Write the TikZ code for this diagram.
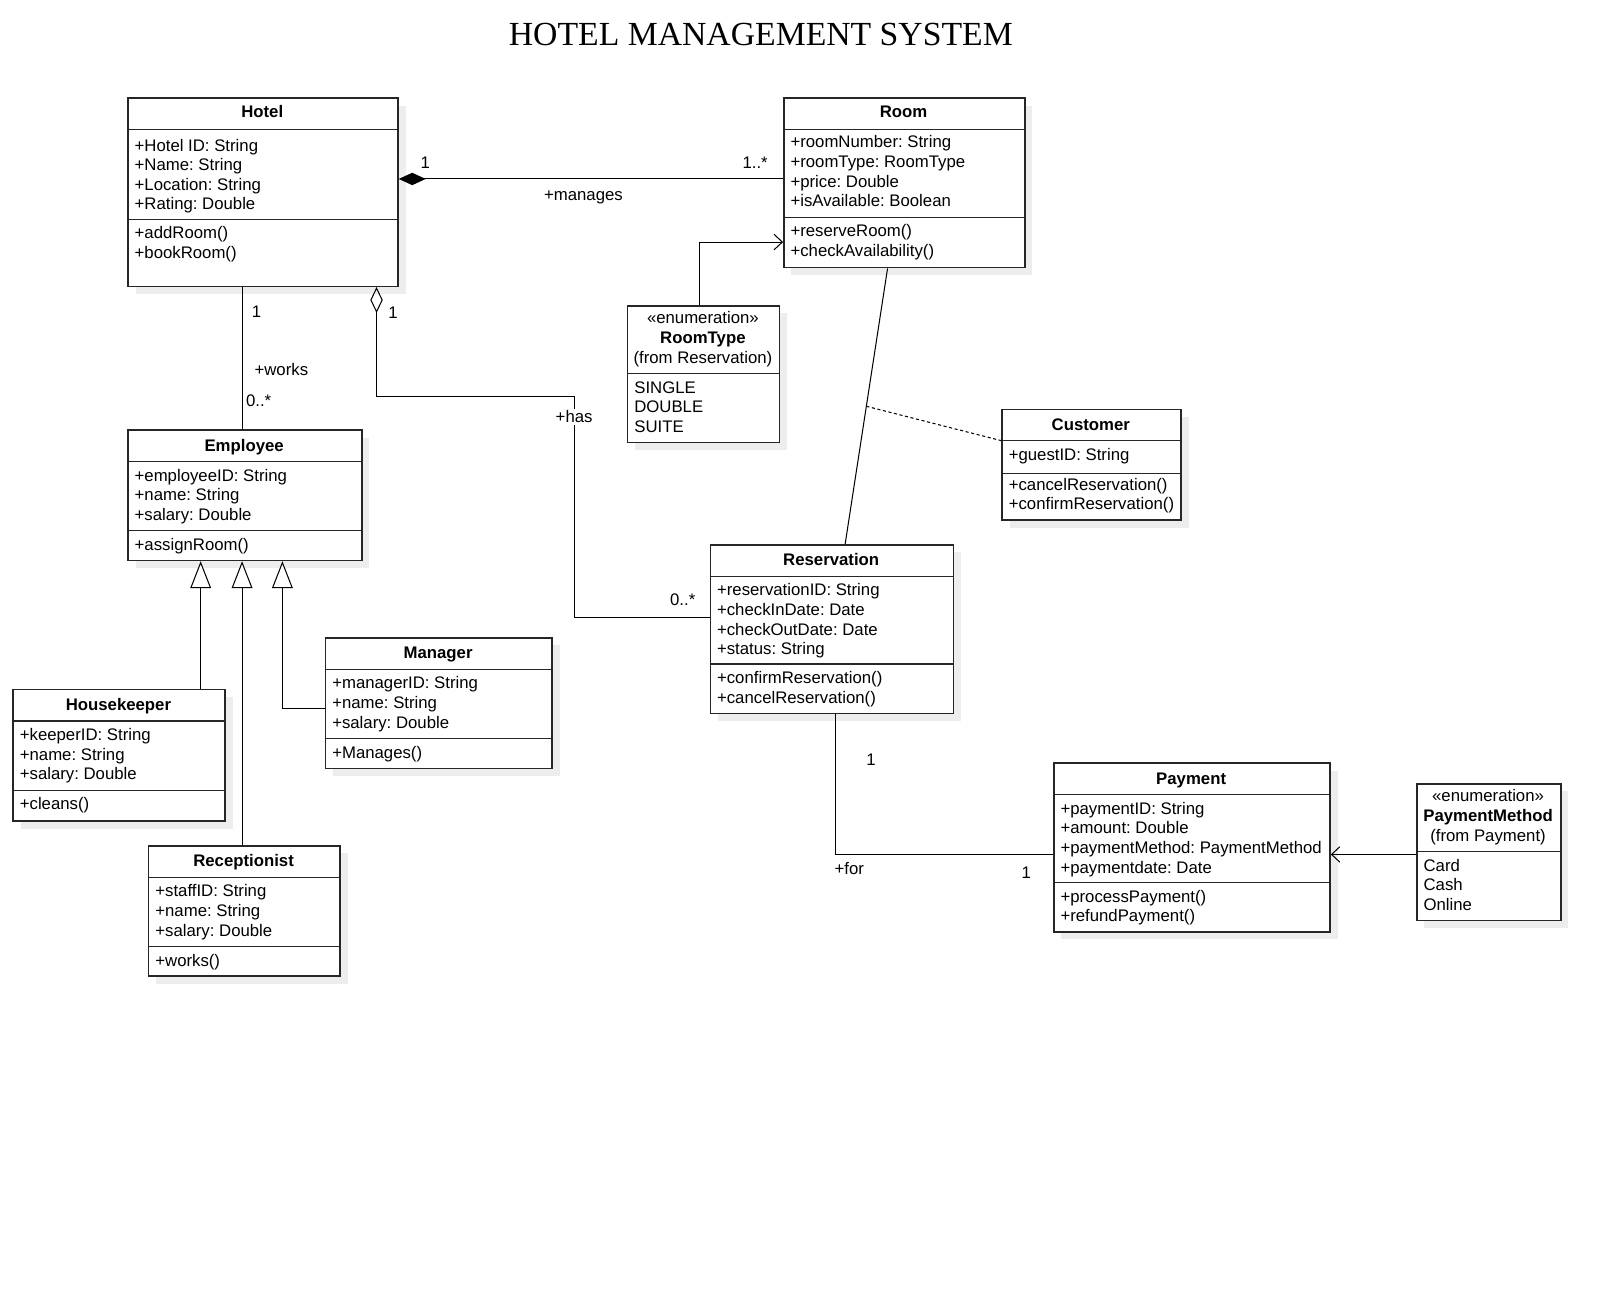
\documentclass[tikz,border=0pt]{standalone}
\usepackage{fontspec}
\setmainfont{Liberation Sans}
\newfontfamily\titlefont{Liberation Serif}
\usetikzlibrary{arrows.meta,calc}
\frenchspacing
\tikzset{
  boxline/.style={draw=black!85, line width=1.5pt},
  divl/.style={draw=black!85, line width=1.2pt},
  box/.style={boxline, fill=white, inner sep=0pt, anchor=north west},
  txt/.style={font=\fontsize{16.2}{19}\selectfont, inner sep=0pt, anchor=base west},
  ctxt/.style={font=\fontsize{16.2}{19}\selectfont, inner sep=0pt, anchor=base},
  hdr/.style={font=\fontsize{16.2}{19}\selectfont\bfseries, inner sep=0pt, anchor=base},
  lbl/.style={font=\fontsize{16.2}{19}\selectfont, inner sep=0pt},
  conn/.style={draw=black, line width=1pt},
}
% name, left, top, width, height
\newcommand\umlbox[5]{%
  \fill[black!7] (#2+8,-#3-8) rectangle ++(#4,-#5);
  \node[box, minimum width=#4pt, minimum height=#5pt] (#1) at (#2,-#3) {};}
% left x, width, y
\newcommand\divline[3]{\draw[divl] (#1,-#3) -- ++(#2,0);}
% x, first baseline, prefix, list
\newcommand\rows[4]{\foreach \t [count=\i] in {#4} {\node[txt] (#3\i) at (#1,{-(#2)-19*(\i-1)}) {\t};}}
\begin{document}
\begin{tikzpicture}[x=1pt,y=1pt]
\useasboundingbox (0,0) rectangle (1568,-1246);
\fill[white] (0,0) rectangle (1568,-1246);

\node[font=\titlefont\fontsize{32.6}{36}\selectfont, inner sep=0pt] (title) at (735.5,-33) {HOTEL MANAGEMENT SYSTEM};

% ---------- classes ----------
% Hotel
\umlbox{hotel}{123}{94}{261}{182}
\divline{123}{261}{125}\divline{123}{261}{212}
\node[hdr] (hotelN) at (253.5,-114) {Hotel};
\rows{130}{146}{hotelA}{+Hotel ID: String,+Name: String,+Location: String,+Rating: Double}
\rows{130}{231}{hotelM}{+addRoom(),+bookRoom()}

% Room
\umlbox{room}{757}{94}{233}{164}
\divline{757}{233}{125}\divline{757}{233}{210}
\node[hdr] (roomN) at (873.5,-114) {Room};
\rows{764}{143}{roomA}{+roomNumber: String,+roomType: RoomType,+price: Double,+isAvailable: Boolean}
\rows{764}{229}{roomM}{+reserveRoom(),+checkAvailability()}

% RoomType
\umlbox{roomtype}{606}{295}{147}{132}
\divline{606}{147}{361}
\node[ctxt] (rtS) at (679.5,-313) {«enumeration»};
\node[hdr] (rtN) at (679.5,-332) {RoomType};
\node[ctxt] (rtF) at (679.5,-351) {(from Reservation)};
\rows{613}{380}{rtV}{SINGLE,DOUBLE,SUITE}

% Customer
\umlbox{customer}{968}{395}{173}{107}
\divline{968}{173}{426}\divline{968}{173}{458}
\node[hdr] (custN) at (1054.5,-416) {Customer};
\rows{975}{445}{custA}{+guestID: String}
\rows{975}{474}{custM}{+cancelReservation(),+confirmReservation()}

% Employee
\umlbox{employee}{123}{415}{226}{126}
\divline{123}{226}{446}\divline{123}{226}{513}
\node[hdr] (empN) at (236,-436) {Employee};
\rows{130}{465}{empA}{+employeeID: String,+name: String,+salary: Double}
\rows{130}{532}{empM}{+assignRoom()}

% Reservation
\umlbox{reservation}{686}{526}{235}{163}
\divline{686}{235}{557}\divline{686}{235}{642}
\node[hdr] (resN) at (803.5,-547) {Reservation};
\rows{693}{576}{resA}{+reservationID: String,+checkInDate: Date,+checkOutDate: Date,+status: String}
\rows{693}{661}{resM}{+confirmReservation(),+cancelReservation()}

% Manager
\umlbox{manager}{314}{616}{219}{126}
\divline{314}{219}{647}\divline{314}{219}{714}
\node[hdr] (mgrN) at (423.5,-637) {Manager};
\rows{321}{666}{mgrA}{+managerID: String,+name: String,+salary: Double}
\rows{321}{733}{mgrM}{+Manages()}

% Housekeeper
\umlbox{housekeeper}{12}{666}{205}{127}
\divline{12}{205}{697}\divline{12}{205}{764}
\node[hdr] (hkN) at (114.5,-687) {Housekeeper};
\rows{19}{716}{hkA}{+keeperID: String,+name: String,+salary: Double}
\rows{19}{783}{hkM}{+cleans()}

% Receptionist
\umlbox{receptionist}{143}{817}{185}{126}
\divline{143}{185}{848}\divline{143}{185}{915}
\node[hdr] (rcN) at (235.5,-838) {Receptionist};
\rows{150}{867}{rcA}{+staffID: String,+name: String,+salary: Double}
\rows{150}{934}{rcM}{+works()}

% Payment
\umlbox{payment}{1018}{737}{267}{163}
\divline{1018}{267}{768}\divline{1018}{267}{853}
\node[hdr] (payN) at (1151.5,-758) {Payment};
\rows{1025}{787}{payA}{+paymentID: String,+amount: Double,+paymentMethod: PaymentMethod,+paymentdate: Date}
\rows{1025}{872}{payM}{+processPayment(),+refundPayment()}

% PaymentMethod
\umlbox{paymentmethod}{1369}{757}{139}{132}
\divline{1369}{139}{823}
\node[ctxt] (pmS) at (1438.5,-775) {«enumeration»};
\node[hdr] (pmN) at (1438.5,-794) {PaymentMethod};
\node[ctxt] (pmF) at (1438.5,-813) {(from Payment)};
\rows{1376}{842}{pmV}{Card,Cash,Online}

% ---------- connectors ----------
% Hotel -- Room composition
\draw[conn, {Diamond[length=26pt,width=12pt]}-] (hotel.east |- 0,-173) coordinate (hotR) -- (room.west |- 0,-173) coordinate (roomL);
\node[lbl] (m1) at (411,-157) {1};
\node[lbl] (m2) at (730,-157) {1..*};
\node[lbl] (m3) at (564,-191) {+manages};

% RoomType -> Room
\draw[conn, -{Straight Barb[length=8pt,width=15pt]}] (roomtype.north -| 676,0) coordinate (rtT) |- (room.west |- 0,-234) coordinate (roomL2);

% Hotel -- Employee
\draw[conn] (hotel.south -| 234,0) coordinate (hotB1) -- (employee.north -| 234,0) coordinate (empT);
\node[lbl] (m4) at (248,-301) {1};
\node[lbl] (m5) at (272,-357) {+works};
\node[lbl] (m6) at (250,-387) {0..*};

% Hotel <>-- Reservation aggregation
\coordinate (hotB2) at (hotel.south -| 364,0);
\coordinate (resL) at (reservation.west |- 0,-597);
\draw[conn, {Diamond[open,length=25pt,width=12pt]}-] (hotB2) |- (555,-383) |- (resL);
\node[lbl] (m7) at (380,-302) {1};
\node[lbl, fill=white, inner sep=1.5pt] (m8) at (555,-403) {+has};
\node[lbl] (m9) at (660,-580) {0..*};

% Room -- Reservation, with Customer association class
\coordinate (roomB) at (room.south -| 858,0);
\coordinate (resT) at (reservation.north -| 817,0);
\draw[conn] (roomB) -- coordinate[pos=0.5] (assoc) (resT);
\coordinate (custL) at (customer.west |- 0,-426);
\draw[conn, dash pattern=on 3pt off 2.5pt] (assoc) -- (custL);

% Generalizations
\tikzset{gen/.style={conn, -{Triangle[open,length=26pt,width=20pt,fill=white]}}}
\draw[gen] (housekeeper.north -| 194,0) coordinate (hkT) -- (employee.south -| 194,0) coordinate (empB1);
\draw[gen] (receptionist.north -| 234,0) coordinate (rcT) -- (employee.south -| 234,0) coordinate (empB2);
\draw[gen] (manager.west |- 0,-685) coordinate (mgL) -| (employee.south -| 273,0) coordinate (empB3);

% Reservation -- Payment
\coordinate (resB) at (reservation.south -| 808,0);
\coordinate (payL) at (payment.west |- 0,-826);
\draw[conn] (resB) |- (payL);
\node[lbl] (m10) at (842,-734) {1};
\node[lbl] (m11) at (821,-840) {+for};
\node[lbl] (m12) at (992,-844) {1};

% PaymentMethod -> Payment
\draw[conn, -{Straight Barb[length=8pt,width=15pt]}] (paymentmethod.west |- 0,-826) coordinate (pmL) -- (payment.east |- 0,-826) coordinate (payR);
\end{tikzpicture}
\end{document}
